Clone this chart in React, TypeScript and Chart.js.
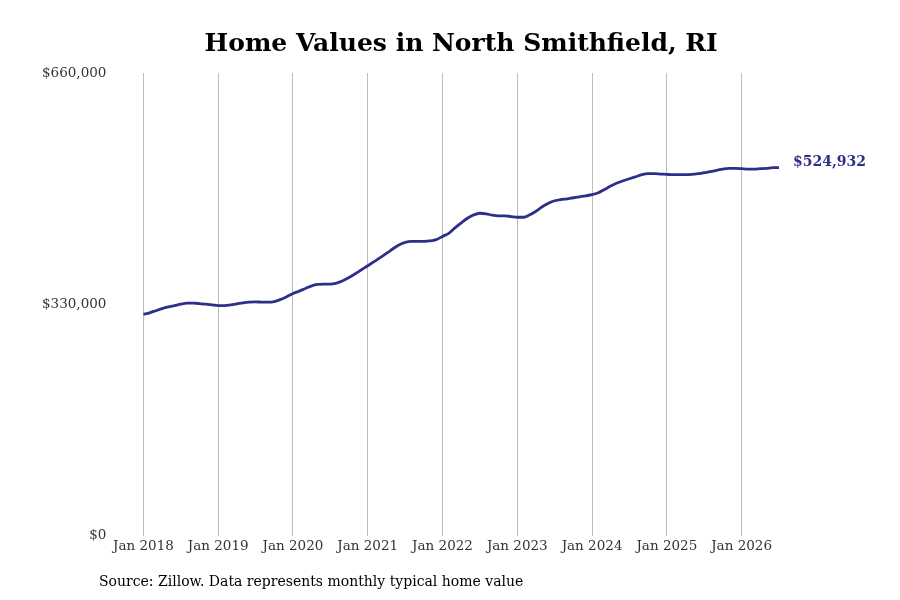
import React, { useEffect, useRef } from "react";
import { Chart, registerables } from "chart.js";

Chart.register(...registerables);

const monthNames = ["Jan", "Feb", "Mar", "Apr", "May", "Jun", "Jul", "Aug", "Sep", "Oct", "Nov", "Dec"];
const years = [2018, 2019, 2020, 2021, 2022, 2023, 2024, 2025, 2026];

// typical home value, one array per year (monthly)
const values2018 = [316000, 318000, 321000, 324000, 326400, 328300, 330300, 331700, 331700, 331200, 330300, 329300];
const values2019 = [328300, 328300, 329300, 330700, 332200, 333200, 333600, 333200, 333200, 334000, 337000, 341000];
const values2020 = [345500, 348900, 352700, 356500, 358400, 358900, 358900, 360400, 363700, 368400, 373700, 379400];
const values2021 = [385100, 390900, 396600, 402700, 409000, 414800, 418500, 420000, 420000, 420000, 420500, 422400];
const values2022 = [427000, 431400, 439100, 446300, 452900, 457700, 460000, 459200, 457200, 456300, 456300, 455300];
const values2023 = [454300, 454300, 457700, 462900, 469200, 474300, 477800, 479600, 480600, 482100, 483500, 484900];
const values2024 = [486400, 489200, 493900, 498700, 503000, 506400, 509200, 512100, 515000, 516400, 516400, 515900];
const values2025 = [515400, 515000, 515000, 515000, 515400, 516400, 517900, 519300, 521200, 523000, 524000, 524000];
const values2026 = [523600, 523000, 523000, 523600, 524000, 525000, 524932];

const yTicks = [0, 330000, 660000];

const title = "Home Values in North Smithfield, RI";
const source = "Source: Zillow. Data represents monthly typical home value";
const lineColor = "#2e2f88";

const values = [
  ...values2018,
  ...values2019,
  ...values2020,
  ...values2021,
  ...values2022,
  ...values2023,
  ...values2024,
  ...values2025,
  ...values2026,
];

const labels: string[] = [];
years.forEach((y) => monthNames.forEach((m) => labels.push(`${m} ${y}`)));
labels.length = values.length;

const money = (v: number) => "$" + Math.round(v).toLocaleString("en-US");

const extrasPlugin = {
  id: "extras",
  afterDraw(chart: Chart) {
    const ctx = chart.ctx;
    const meta = chart.getDatasetMeta(0);
    const last = meta.data[meta.data.length - 1];
    ctx.save();
    ctx.textBaseline = "middle";
    ctx.textAlign = "left";
    if (last) {
      ctx.font = "bold 14px 'DejaVu Serif'";
      ctx.fillStyle = lineColor;
      ctx.fillText(money(values[values.length - 1]), last.x + 14, last.y - 5);
    }
    ctx.font = "14px 'DejaVu Serif'";
    ctx.fillStyle = "#000";
    ctx.fillText(source, 99, 582);
    ctx.restore();
  },
};

const App: React.FC = () => {
  const chartRef = useRef<HTMLCanvasElement>(null);

  useEffect(() => {
    let chartInstance: Chart | null = null;
    if (chartRef.current) {
      chartInstance = new Chart(chartRef.current, {
        type: "line",
        data: {
          labels: labels,
          datasets: [
            {
              label: "Home value",
              data: values,
              borderColor: lineColor,
              borderWidth: 2.8,
              pointRadius: 0,
              cubicInterpolationMode: "monotone",
              fill: false,
            },
          ],
        },
        options: {
          animation: false,
          responsive: true,
          maintainAspectRatio: false,
          layout: { padding: { left: 5, right: 121, top: 0, bottom: 42 } },
          plugins: {
            legend: { display: false },
            tooltip: { enabled: false },
            title: {
              display: true,
              text: title,
              fullSize: false,
              color: "#000",
              font: { family: "'DejaVu Serif'", size: 25, weight: "bold" },
              padding: { top: 29, bottom: 14 },
            },
          },
          scales: {
            x: {
              type: "category",
              border: { display: false },
              grid: { color: "#bdbdbd", lineWidth: 1, drawTicks: false },
              ticks: {
                autoSkip: false,
                maxRotation: 0,
                padding: 3,
                color: "#333",
                font: { family: "'DejaVu Serif'", size: 13.5 },
                callback: (_v, i) => (labels[i].startsWith("Jan") ? labels[i] : null),
              },
            },
            y: {
              min: yTicks[0],
              max: yTicks[yTicks.length - 1],
              border: { display: false },
              grid: { display: false, drawTicks: false },
              afterBuildTicks: (axis) => {
                axis.ticks = yTicks.map((v) => ({ value: v }));
              },
              ticks: {
                padding: 37,
                color: "#333",
                font: { family: "'DejaVu Serif'", size: 13.5 },
                callback: (v) => money(Number(v)),
              },
            },
          },
        },
        plugins: [extrasPlugin],
      });
    }
    return () => {
      if (chartInstance) {
        chartInstance.destroy();
      }
    };
  }, []);

  return (
    <div style={{ position: "fixed", left: 0, top: 0, width: 900, height: 600, background: "#fff" }}>
      <canvas ref={chartRef} />
    </div>
  );
};

export default App;
